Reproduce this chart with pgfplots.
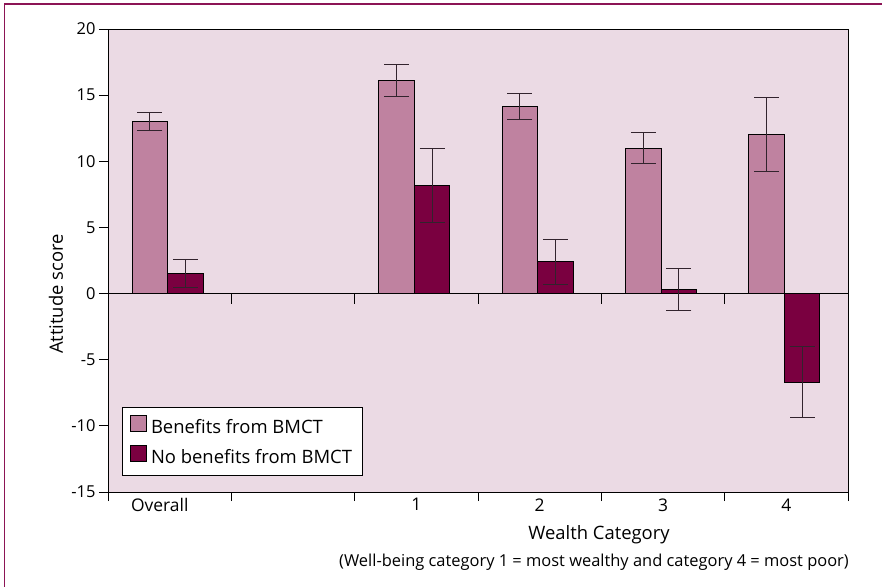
\documentclass[border=0pt]{standalone}
\usepackage{pgfplots}
\pgfplotsset{compat=1.18}
\usepackage{fontspec}
\setmainfont{Open Sans}
\definecolor{bgpink}{RGB}{235,218,228}
\definecolor{barpink}{RGB}{191,130,160}
\definecolor{barmaroon}{RGB}{122,0,64}
\definecolor{framec}{RGB}{140,20,85}
\definecolor{errc}{RGB}{50,35,45}
\begin{document}
\begin{tikzpicture}
\useasboundingbox (0,0) rectangle (882bp,587bp);
\draw[framec, line width=2.5bp] (4bp,583bp) -- (882bp,583bp);
\draw[framec, line width=1.5bp] (4.5bp,0) -- (4.5bp,584bp);
\begin{axis}[
 at={(108bp,95bp)}, anchor=south west,
 scale only axis, width=740bp, height=463bp,
 xmin=-0.5, xmax=5.5, ymin=-15, ymax=20,
 axis background/.style={fill=bgpink},
 axis line style={black, line width=0.8bp},
 ybar=0pt, bar width=35.5bp,
 xtick={-0.5,0.5,1.5,2.5,3.5,4.5,5.5}, xticklabels={},
 extra x ticks={-0.08,2,3,4,5}, extra x tick labels={Overall,1,2,3,4},
 extra x tick style={major tick length=0pt},
 ytick={-15,-10,-5,0,5,10,15,20}, yticklabels={-15,-10,-5,0,5,10,15,20},
 tick align=outside, major tick length=9bp,
 xtick pos=bottom, ytick pos=left,
 tick style={black, line width=0.8bp},
 yticklabel style={font=\fontsize{16.5}{19}\selectfont},
 xticklabel style={font=\fontsize{17.5}{20}\selectfont, yshift=-3bp},
 clip=false,
 legend style={at={(0.019,0.035)}, anchor=south west, draw=black, line width=0.8bp, fill=white, font=\fontsize{18.5}{22}\selectfont, row sep=8bp, inner xsep=8bp, inner ysep=8bp},
 legend cell align=left,
 legend image code/.code={\draw[#1, draw=black, line width=0.6bp] (0bp,-4bp) rectangle (16bp,12bp);},
]
\draw[black, line width=0.8bp] (axis cs:-0.5,0) -- (axis cs:5.5,0);
\pgfplotsinvokeforeach{0.5,1.5,2.5,3.5,4.5}{\draw[black, line width=0.8bp] (axis cs:#1,0) -- ([yshift=-10bp]axis cs:#1,0);}
\addplot[fill=barpink, draw=black, line width=0.8bp,
  error bars/.cd, y dir=both, y explicit,
  error bar style={errc, line width=1bp},
  error mark options={errc, line width=1bp, mark size=12.5bp, rotate=90}]
 coordinates {(-0.016,13) +- (0,0.65) (1.984,16.1) +- (0,1.2) (2.984,14.15) +- (0,1.0) (3.984,11.0) +- (0,1.2) (4.984,12.0) +- (0,2.8)};
\addplot[fill=barmaroon, draw=black, line width=0.8bp,
  error bars/.cd, y dir=both, y explicit,
  error bar style={errc, line width=1bp},
  error mark options={errc, line width=1bp, mark size=12.5bp, rotate=90}]
 coordinates {(-0.016,1.5) +- (0,1.05) (1.984,8.2) +- (0,2.8) (2.984,2.4) +- (0,1.7) (3.984,0.28) +- (0,1.58) (4.984,-6.7) +- (0,2.7)};
\legend{\hspace{2bp}Benefits from BMCT, \hspace{2bp}No benefits from BMCT}
\end{axis}
\node[font=\fontsize{18.5}{22}\selectfont, rotate=90] at (56bp,293bp) {Attitude score};
\node[font=\fontsize{18.5}{22}\selectfont] at (599bp,52bp) {Wealth Category};
\node[font=\fontsize{16.5}{20}\selectfont] at (594bp,25bp) {(Well-being category 1 = most wealthy and category 4 = most poor)};
\end{tikzpicture}
\end{document}
